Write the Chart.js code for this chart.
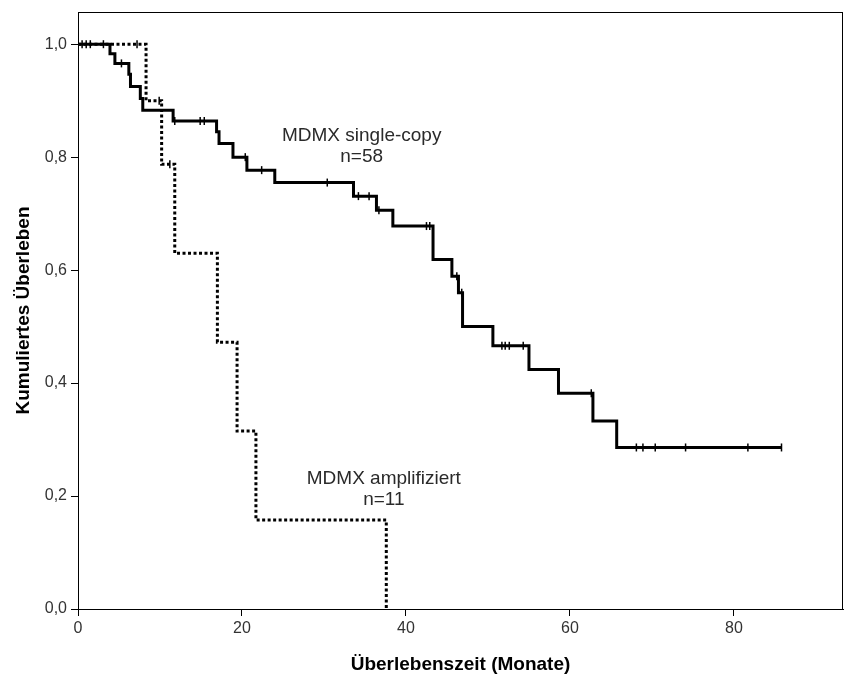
<!DOCTYPE html>
<html>
<head>
<meta charset="utf-8">
<script src="https://cdn.jsdelivr.net/npm/chart.js@4/dist/chart.umd.min.js"></script>
<style>
    html, body { margin: 0; padding: 0; background: #fff; }
    #wrap { width: 844px; height: 680px; }
</style>
</head>
<body>
<div id="wrap"><canvas id="kmChart" width="844" height="680"></canvas></div>
<script>
// Kaplan-Meier data (months, cumulative survival)

// MDMX single-copy, n=58
const singleTimes = [0, 3.9, 4.5, 6.2, 6.4, 7.6, 7.9, 11.6, 16.9, 17.2, 18.9, 20.6, 24.0, 33.6, 36.4, 38.4, 43.3, 45.6, 46.4, 46.9, 50.6, 55.0, 58.6, 62.8, 65.7, 85.8];
const singleSurv  = [1.0, 0.983, 0.966, 0.947, 0.925, 0.904, 0.883, 0.864, 0.845, 0.824, 0.800, 0.777, 0.755, 0.731, 0.706, 0.678, 0.619, 0.589, 0.560, 0.500, 0.466, 0.424, 0.382, 0.333, 0.286, 0.286];
const singleCensTimes = [0.5, 1.0, 1.5, 3.1, 5.3, 11.8, 14.9, 15.4, 20.4, 22.4, 30.4, 34.2, 35.5, 36.7, 42.5, 42.9, 46.2, 46.8, 51.7, 52.1, 52.6, 54.3, 62.6, 68.1, 68.9, 70.4, 74.1, 81.7, 85.8];
const singleCensSurv  = [1.0, 1.0, 1.0, 1.0, 0.966, 0.864, 0.864, 0.864, 0.800, 0.777, 0.755, 0.731, 0.731, 0.706, 0.678, 0.678, 0.589, 0.560, 0.466, 0.466, 0.466, 0.466, 0.382, 0.286, 0.286, 0.286, 0.286, 0.286, 0.286];

// MDMX amplifiziert, n=11
const ampTimes = [0, 8.3, 10.2, 11.8, 17.0, 19.4, 21.7, 37.6];
const ampSurv  = [1.0, 0.9, 0.7875, 0.63, 0.4725, 0.315, 0.1575, 0.0];
const ampCensTimes = [7.2, 9.9, 11.2];
const ampCensSurv  = [1.0, 0.9, 0.7875];

// curve labels (data units)
const labelLines = ['MDMX single-copy', 'n=58', 'MDMX amplifiziert', 'n=11'];
const labelX = [34.6, 34.6, 37.3, 37.3];
const labelY = [0.837, 0.800, 0.230, 0.193];

const xTicks = [0, 20, 40, 60, 80];
const yTicks = [0, 0.2, 0.4, 0.6, 0.8, 1.0];

const toPoints = (xs, ys) => xs.map((x, i) => ({ x: x, y: ys[i] }));
const deComma = v => v.toFixed(1).replace('.', ',');
const FONT = '"Liberation Sans", Arial, sans-serif';

// frame around the plot area + curve labels
const framePlugin = {
    id: 'frame',
    beforeDatasetsDraw(chart) {
        const { ctx, chartArea: a } = chart;
        ctx.save();
        ctx.strokeStyle = '#000';
        ctx.lineWidth = 1;
        ctx.strokeRect(a.left + 0.5, a.top + 0.5, a.right - a.left - 1, a.bottom - a.top);
        ctx.restore();
    },
    afterDatasetsDraw(chart) {
        const { ctx, scales } = chart;
        ctx.save();
        ctx.fillStyle = '#2a2a2a';
        ctx.font = '19px ' + FONT;
        ctx.textAlign = 'center';
        ctx.textBaseline = 'middle';
        labelLines.forEach((txt, i) => {
            ctx.fillText(txt, scales.x.getPixelForValue(labelX[i]), scales.y.getPixelForValue(labelY[i]));
        });
        ctx.restore();
    }
};

new Chart(document.getElementById('kmChart'), {
    type: 'line',
    data: {
        datasets: [
            {
                label: 'MDMX single-copy',
                data: toPoints(singleTimes, singleSurv),
                borderColor: '#000',
                borderWidth: 3,
                stepped: true,
                pointRadius: 0,
                fill: false
            },
            {
                label: 'MDMX amplifiziert',
                data: toPoints(ampTimes, ampSurv),
                borderColor: '#000',
                borderWidth: 3,
                borderDash: [3, 2.5],
                stepped: true,
                pointRadius: 0,
                fill: false
            },
            {
                type: 'scatter',
                label: 'zensiert single-copy',
                data: toPoints(singleCensTimes, singleCensSurv),
                pointStyle: 'line',
                rotation: 90,
                pointRadius: 4,
                borderWidth: 1.5,
                borderColor: '#000',
                showLine: false
            },
            {
                type: 'scatter',
                label: 'zensiert amplifiziert',
                data: toPoints(ampCensTimes, ampCensSurv),
                pointStyle: 'line',
                rotation: 90,
                pointRadius: 4,
                borderWidth: 1.5,
                borderColor: '#000',
                showLine: false
            }
        ]
    },
    options: {
        responsive: false,
        animation: false,
        layout: { autoPadding: false, padding: { top: 12, right: 1, left: 0, bottom: 0 } },
        plugins: {
            legend: { display: false },
            tooltip: { enabled: false }
        },
        scales: {
            x: {
                type: 'linear',
                min: 0,
                max: 93.3,
                afterBuildTicks: scale => { scale.ticks = xTicks.map(v => ({ value: v })); },
                afterFit: scale => {
                    scale.height = 71;
                    scale.paddingRight = 0;
                    scale.paddingLeft = 0;
                },
                grid: { drawOnChartArea: false, drawTicks: true, tickLength: 7, color: '#000' },
                border: { color: '#000', width: 1 },
                ticks: {
                    color: '#333',
                    padding: 3,
                    font: { family: FONT, size: 16 },
                    maxRotation: 0,
                    callback: v => String(v)
                },
                title: {
                    display: true,
                    text: 'Überlebenszeit (Monate)',
                    color: '#000',
                    font: { family: FONT, size: 19, weight: 'bold' },
                    padding: { top: 8, bottom: 4 }
                }
            },
            y: {
                type: 'linear',
                min: 0,
                max: 1.057,
                afterBuildTicks: scale => { scale.ticks = yTicks.map(v => ({ value: v })); },
                afterFit: scale => {
                    scale.width = 78;
                    scale.paddingTop = 0;
                    scale.paddingBottom = 0;
                },
                grid: { drawOnChartArea: false, drawTicks: true, tickLength: 7, color: '#000' },
                border: { color: '#000', width: 1 },
                ticks: {
                    color: '#333',
                    padding: 4,
                    font: { family: FONT, size: 16 },
                    callback: v => deComma(v)
                },
                title: {
                    display: true,
                    text: 'Kumuliertes Überleben',
                    color: '#000',
                    font: { family: FONT, size: 19, weight: 'bold' },
                    padding: { top: 12, bottom: 4 }
                }
            }
        }
    },
    plugins: [framePlugin]
});
</script>
</body>
</html>
